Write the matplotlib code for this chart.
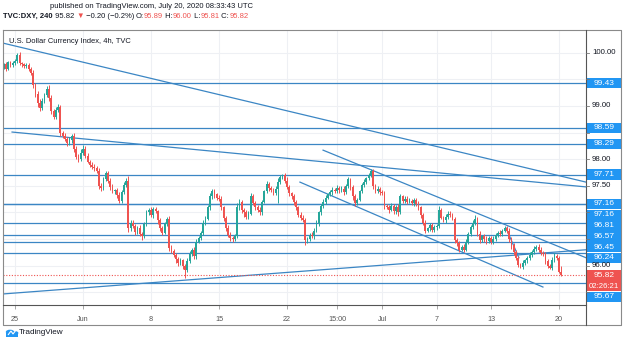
import numpy as np
import matplotlib
matplotlib.use('Agg')
import matplotlib.pyplot as plt
from matplotlib.patches import Rectangle, Circle, Polygon

plt.rcParams['font.family'] = ['Liberation Sans', 'DejaVu Sans']

# ---------------------------------------------------------------------------- #
#                                     DATA                                     #
# ---------------------------------------------------------------------------- #
# 4h closes, May 22 (5 bars), May 25 .. Jul 17 (6 bars/day), Jul 20 (2 bars)
first_open = 99.72
closes = [
    99.78, 99.70, 99.82, 99.76, 99.80,
    99.84, 99.96, 99.80, 99.78, 99.75, 99.77,
    99.70, 99.62, 99.40, 99.22, 99.05, 98.96,
    99.10, 99.20, 99.32, 99.15, 98.90, 98.80,
    98.92, 98.98, 98.50, 98.44, 98.38, 98.30,
    98.36, 98.44, 98.20, 98.05, 98.00, 98.12,
    98.20, 98.06, 97.95, 97.90, 97.86, 97.84,
    97.78, 97.50, 97.46, 97.62, 97.74, 97.60,
    97.48, 97.40, 97.42, 97.32, 97.22, 97.38,
    97.52, 97.60, 96.70, 96.80, 96.75, 96.64,
    96.70, 96.60, 96.56, 96.78, 97.00, 97.05,
    96.95, 97.06, 97.02, 96.85, 96.70, 96.62,
    96.78, 96.88, 96.34, 96.28, 96.20, 96.12,
    96.05, 96.10, 96.00, 95.92, 96.08, 96.22,
    96.30, 96.18, 96.45, 96.52, 96.62, 96.80,
    96.88, 97.10, 97.30, 97.40, 97.34, 97.28,
    97.25, 97.10, 96.90, 96.70, 96.58, 96.52,
    96.50, 96.55, 97.10, 97.20, 97.05, 97.00,
    96.92, 96.98, 97.30, 97.18, 97.10, 97.05,
    97.00, 97.20, 97.40, 97.54, 97.46, 97.42,
    97.36, 97.45, 97.58, 97.66, 97.70, 97.60,
    97.48, 97.36, 97.30, 97.20, 97.10, 96.96,
    96.90, 96.86, 96.48, 96.50, 96.58, 96.55,
    96.66, 96.80, 97.00, 97.12, 97.20, 97.28,
    97.34, 97.38, 97.42, 97.40, 97.46, 97.42,
    97.45, 97.38, 97.50, 97.62, 97.48, 97.30,
    97.18, 97.24, 97.40, 97.52, 97.58, 97.64,
    97.70, 97.78, 97.50, 97.40, 97.44, 97.38,
    97.36, 97.12, 97.10, 97.05, 97.12, 97.02,
    97.10, 97.00, 97.30, 97.22, 97.26, 97.20,
    97.22, 97.18, 97.24, 97.16, 97.10, 96.95,
    96.80, 96.66, 96.70, 96.76, 96.68, 96.72,
    96.74, 97.05, 96.90, 96.86, 96.92, 96.98,
    96.95, 96.88, 96.48, 96.42, 96.30, 96.36,
    96.30, 96.45, 96.60, 96.72, 96.80, 96.88,
    96.60, 96.48, 96.55, 96.50, 96.46, 96.52,
    96.45, 96.50, 96.58, 96.62, 96.60, 96.66,
    96.70, 96.66, 96.50, 96.38, 96.26, 96.15,
    96.02, 95.98, 96.05, 96.10, 96.14, 96.20,
    96.25, 96.32, 96.36, 96.30, 96.24, 96.22,
    96.08, 96.00, 95.96, 96.10, 96.18, 96.15,
    95.89, 95.82,
]
# wick lengths above / below the body, in hundredths
hi_wick = [
    3, 4, 2, 3, 4,
    4, 3, 5, 3, 2, 3,
    4, 3, 5, 4, 6, 8,
    5, 4, 6, 8, 5, 4,
    6, 5, 4, 3, 5, 4,
    5, 4, 6, 5, 4, 7,
    6, 4, 5, 3, 4, 5,
    4, 6, 5, 5, 4, 3,
    4, 5, 3, 4, 6, 5,
    5, 4, 8, 6, 5, 4,
    5, 6, 3, 4, 5, 4,
    6, 4, 5, 3, 4, 5,
    5, 4, 6, 5, 3, 4,
    4, 5, 3, 4, 6, 5,
    4, 5, 6, 3, 4, 5,
    5, 4, 6, 5, 4, 3,
    4, 5, 3, 4, 6, 5,
    3, 4, 8, 5, 4, 3,
    4, 5, 6, 4, 3, 4,
    5, 4, 3, 5, 4, 3,
    4, 5, 6, 5, 3, 4,
    6, 4, 3, 5, 4, 3,
    4, 5, 3, 4, 3, 5,
    4, 5, 3, 4, 5, 4,
    3, 4, 5, 4, 5, 3,
    4, 5, 4, 5, 3, 4,
    5, 4, 3, 4, 5, 3,
    4, 4, 3, 4, 5, 3,
    4, 5, 3, 4, 5, 3,
    4, 5, 4, 3, 5, 4,
    5, 4, 3, 4, 5, 3,
    4, 5, 3, 4, 5, 4,
    4, 8, 4, 3, 5, 4,
    5, 4, 3, 4, 5, 3,
    4, 5, 3, 4, 5, 7,
    4, 5, 3, 4, 5, 3,
    4, 5, 3, 4, 5, 3,
    4, 5, 4, 3, 5, 4,
    3, 4, 5, 3, 4, 5,
    4, 5, 3, 4, 5, 3,
    4, 5, 3, 6, 5, 4,
    3, 11,
]
lo_wick = [
    3, 5, 3, 2, 3,
    4, 3, 4, 5, 3, 4,
    5, 4, 6, 5, 7, 6,
    4, 5, 3, 6, 5, 4,
    5, 4, 6, 5, 4, 6,
    4, 5, 6, 4, 5, 3,
    5, 4, 3, 5, 4, 6,
    4, 5, 6, 4, 3, 5,
    5, 4, 6, 5, 4, 5,
    3, 4, 6, 5, 4, 6,
    4, 5, 8, 4, 3, 5,
    4, 5, 3, 6, 5, 4,
    3, 4, 6, 5, 4, 6,
    5, 4, 6, 15, 4, 3,
    4, 5, 6, 3, 4, 5,
    4, 3, 5, 4, 6, 5,
    4, 5, 6, 5, 4, 6,
    5, 4, 3, 5, 6, 8,
    4, 5, 3, 4, 5, 4,
    5, 4, 3, 4, 5, 4,
    3, 4, 27, 4, 3, 5,
    4, 5, 4, 6, 5, 4,
    5, 4, 9, 5, 4, 3,
    4, 3, 5, 4, 3, 4,
    3, 4, 5, 4, 3, 5,
    4, 5, 3, 4, 5, 6,
    5, 4, 3, 4, 5, 4,
    3, 4, 5, 4, 3, 5,
    4, 5, 4, 6, 3, 5,
    4, 6, 3, 4, 5, 4,
    3, 4, 5, 4, 5, 6,
    4, 5, 3, 4, 5, 4,
    5, 4, 3, 4, 5, 4,
    4, 3, 6, 5, 4, 3,
    4, 3, 4, 5, 3, 4,
    5, 6, 4, 5, 6, 4,
    4, 5, 3, 4, 5, 4,
    3, 4, 5, 6, 5, 4,
    5, 2, 4, 3, 4, 3,
    4, 3, 4, 5, 4, 3,
    5, 4, 3, 4, 3, 4,
    3, 1,
]

# time axis labels (bar index of each label)
tick_pos = [5, 35, 65, 95, 125, 147.2, 167, 191, 215, 245]
tick_lbl = ['25', 'Jun', '8', '15', '22', '15:00', 'Jul', '7', '13', '20']

# horizontal levels drawn on the chart
levels = [99.43, 98.59, 98.29, 97.71, 97.16, 97.16, 96.81, 96.57, 96.45, 96.24, 95.67]
last_price = 95.82
countdown = '02:26:21'

# trend lines: (bar0, price0, bar1, price1)
trend_lines = [
    (-0.3, 100.18, 256.9, 97.57),
    (3.7, 98.51, 256.9, 97.48),
    (140.9, 98.17, 256.9, 96.15),
    (130.7, 97.57, 237.9, 95.60),
    (-0.3, 95.47, 256.9, 96.30),
    (221.6, 96.71, 227.3, 96.15),
]

UP, DOWN, BLUE, LINE = '#26a69a', '#ef5350', '#2196f3', '#3b86c4'
TXT = '#131722'

# ---------------------------------------------------------------------------- #
#                                     PLOT                                     #
# ---------------------------------------------------------------------------- #
W, H = 625, 342
fig = plt.figure(figsize=(W / 100, H / 100), dpi=100)
fig.patch.set_facecolor('white')
L, R, T, B = 3, 586, 30, 304.5
ax = fig.add_axes([L / W, (H - B) / H, (R - L) / W, (B - T) / H])
ax.set_xlim(-0.3, 256.9)
ax.set_ylim(95.272, 100.426)

c = np.array(closes)
o = np.concatenate([[first_open], c[:-1]])
n = min(len(c), len(hi_wick), len(lo_wick))
c, o = c[:n], o[:n]
hi = np.maximum(o, c) + np.array(hi_wick[:n]) / 100
lo = np.minimum(o, c) - np.array(lo_wick[:n]) / 100
idx = np.arange(n)
col = np.where(c >= o, UP, DOWN)

# grid
yticks = np.arange(95.5, 100.01, 0.5)
for p in yticks:
    ax.axhline(p, color='#eef0f4', lw=0.8, zorder=0)
for t in tick_pos:
    ax.axvline(t, color='#eef0f4', lw=0.8, zorder=0)

# levels and trend lines
for lv in levels:
    ax.axhline(lv, color=LINE, lw=0.9, zorder=1)
for x0, y0, x1, y1 in trend_lines:
    ax.plot([x0, x1], [y0, y1], color=LINE, lw=0.9, zorder=1)
ax.axhline(last_price, color=DOWN, lw=0.8, ls=(0, (1, 1.5)), zorder=1)

# candles
ax.vlines(idx, lo, hi, colors=col, lw=0.7, zorder=3)
body = np.maximum(np.abs(c - o), 0.008)
ax.bar(idx, body, bottom=np.minimum(o, c), width=0.8, color=col, zorder=3, lw=0)

# axes styling
for s in ax.spines.values():
    s.set_visible(False)
ax.set_yticks([])
ax.set_xticks(tick_pos)
ax.set_xticklabels(tick_lbl)
ax.tick_params(axis='x', length=3, width=0.6, color='#999', labelsize=5.2,
               labelcolor='#555', pad=5)

# frame
def fline(xs, ys, **kw):
    fig.add_artist(plt.Line2D([x / W for x in xs], [1 - y / H for y in ys],
                              transform=fig.transFigure, **kw))

fline([3, 621, 621, 3, 3], [30, 30, 325, 325, 30], color='#8a8a8a', lw=0.8)
fline([586, 586], [30, 325], color='#555', lw=0.8)
fline([3, 586], [B, B], color='#555', lw=0.8)

# price labels on the right axis
def ypix(p):
    return H - ax.transData.transform((0, p))[1]

items = [(lv, '%.2f' % lv, BLUE) for lv in levels if lv > last_price]
items += [(last_price, '%.2f' % last_price, DOWN), (None, countdown, DOWN)]
items += [(lv, '%.2f' % lv, BLUE) for lv in levels if lv < last_price]
prev = -100
box_y = []
for p, txt, fc in items:
    y = prev + 10.8 if p is None else max(ypix(p), prev + 10.8)
    prev = y
    box_y.append(y)
    fig.add_artist(Rectangle((587 / W, 1 - (y + 5.2) / H), 34 / W, 10.4 / H,
                             transform=fig.transFigure, color=fc, lw=0))
    fig.text(604 / W, 1 - y / H, txt, color='white',
             fontsize=5.6 if p is None else 6, ha='center', va='center')

# regular price scale ticks, only where no label box covers them
for p in yticks:
    y = ypix(p)
    fline([586, 589], [y, y], color='#777', lw=0.6)
    if min(abs(y - b) for b in box_y) >= 7.5:
        fig.text(592 / W, 1 - y / H, '%.2f' % p, color=TXT, fontsize=5.6,
                 ha='left', va='center')

# header texts
ax.text(0.01, 0.972, 'U.S. Dollar Currency Index, 4h, TVC', transform=ax.transAxes,
        fontsize=5.4, color=TXT, va='top', ha='left')
fig.text(152 / W, 1 - 6 / H, 'published on TradingView.com, July 20, 2020 08:33:43 UTC',
         fontsize=5.5, color=TXT, ha='center', va='center')

pieces = [('TVC:DXY, 240', TXT, 'bold'), (' 95.82 ', TXT, 'normal'),
          ('\u25bc', DOWN, 'normal'), (' \u22120.20 (\u22120.2%) ', TXT, 'normal'),
          ('O:', TXT, 'normal'), ('95.89', DOWN, 'normal'),
          (' H:', TXT, 'normal'), ('96.00', DOWN, 'normal'),
          (' L:', TXT, 'normal'), ('95.81', DOWN, 'normal'),
          (' C:', TXT, 'normal'), ('95.82', DOWN, 'normal')]
r = fig.canvas.get_renderer()
xpix = 3
for txt, color, wt in pieces:
    t = fig.text(xpix / W, 1 - 16.5 / H, txt, color=color, fontsize=5.5,
                 fontweight=wt, ha='left', va='center')
    xpix += t.get_window_extent(renderer=r).width

# TradingView logo
fig.add_artist(Circle((10 / W, 1 - 332 / H), 4.2 / W, transform=fig.transFigure,
                      color=BLUE, lw=0))
fig.add_artist(Circle((15 / W, 1 - 333 / H), 3.4 / W, transform=fig.transFigure,
                      color=BLUE, lw=0))
fig.add_artist(Rectangle((6 / W, 1 - 337 / H), 12 / W, 4 / H,
                         transform=fig.transFigure, color=BLUE, lw=0))
fig.add_artist(Polygon([(8 / W, 1 - 335 / H), (11 / W, 1 - 331 / H), (13 / W, 1 - 334 / H),
                        (16 / W, 1 - 330 / H)], closed=False, fill=False,
                       transform=fig.transFigure, color='white', lw=0.8))
fig.text(19 / W, 1 - 333 / H, 'TradingView', fontsize=5.9, color=TXT,
         ha='left', va='center')

fig.savefig('out.png', dpi=100)
